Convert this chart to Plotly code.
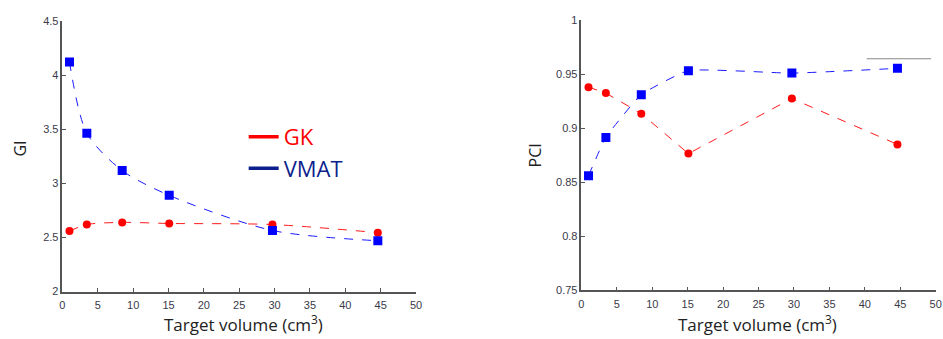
import plotly.graph_objects as go

volume = [1.0, 3.45, 8.45, 15.1, 29.7, 44.6]
gi_gk = [2.56, 2.62, 2.64, 2.63, 2.62, 2.545]
gi_vmat = [4.125, 3.465, 3.12, 2.89, 2.565, 2.47]
pci_gk = [0.938, 0.9325, 0.9135, 0.8765, 0.9275, 0.885]
pci_vmat = [0.856, 0.8915, 0.931, 0.9533, 0.951, 0.9554]
x_ticks = [0, 5, 10, 15, 20, 25, 30, 35, 40, 45, 50]
gi_ticks = [2, 2.5, 3, 3.5, 4, 4.5]
pci_ticks = [0.75, 0.8, 0.85, 0.9, 0.95, 1]

W, H = 943, 339
RED = "#ff1a1a"
BLUE = "#1a1aff"
NAVY = "#0d1f8c"

fig = go.Figure()

# left plot (GI)
fig.add_trace(go.Scatter(x=volume, y=gi_gk, mode="lines+markers", xaxis="x", yaxis="y",
                         line=dict(color=RED, width=1, dash="dash", shape="spline", smoothing=0.8),
                         marker=dict(symbol="circle", size=8, color="#ff0000"), showlegend=False))
fig.add_trace(go.Scatter(x=volume, y=gi_vmat, mode="lines+markers", xaxis="x", yaxis="y",
                         line=dict(color=BLUE, width=1, dash="dash", shape="spline", smoothing=0.8),
                         marker=dict(symbol="square", size=9, color="#0000ff"), showlegend=False))
# right plot (PCI)
fig.add_trace(go.Scatter(x=volume, y=pci_gk, mode="lines+markers", xaxis="x2", yaxis="y2",
                         line=dict(color=RED, width=1, dash="dash"),
                         marker=dict(symbol="circle", size=8, color="#ff0000"), showlegend=False))
fig.add_trace(go.Scatter(x=volume, y=pci_vmat, mode="lines+markers", xaxis="x2", yaxis="y2",
                         line=dict(color=BLUE, width=1, dash="dash", shape="spline", smoothing=0.4),
                         marker=dict(symbol="square", size=9, color="#0000ff"), showlegend=False))

# legend entries
fig.add_trace(go.Scatter(x=[None], y=[None], mode="lines", name="<span style='color:#ff0000'>GK</span>",
                         line=dict(color="#ff0000", width=3.5), xaxis="x", yaxis="y"))
fig.add_trace(go.Scatter(x=[None], y=[None], mode="lines", name="<span style='color:%s'>VMAT</span>" % NAVY,
                         line=dict(color=NAVY, width=3.5), xaxis="x", yaxis="y"))

tickfont = dict(family="Liberation Sans", size=11, color="#3a3a4a")
axis_common = dict(showgrid=False, zeroline=False, showline=True, linecolor="#555555", linewidth=1.5,
                   ticks="inside", ticklen=4, tickcolor="#555555", tickfont=tickfont, mirror=False)

fig.update_layout(
    width=W, height=H, margin=dict(l=0, r=0, t=0, b=0),
    paper_bgcolor="white", plot_bgcolor="white",
    xaxis=dict(domain=[60 / W, 417 / W], range=[0, 50], tickvals=x_ticks, anchor="y",
               ticklabelstandoff=3, **axis_common),
    yaxis=dict(domain=[1 - 296 / H, 1 - 16 / H], range=[2, 4.5], tickvals=gi_ticks,
               ticktext=[f"{v:g}" for v in gi_ticks], anchor="x", **axis_common),
    xaxis2=dict(domain=[584 / W, 941.7 / W], range=[0, 50], tickvals=x_ticks, anchor="y2",
                ticklabelstandoff=3, **axis_common),
    yaxis2=dict(domain=[1 - 294.7 / H, 1 - 14.7 / H], range=[0.75, 1], tickvals=pci_ticks,
                ticktext=[f"{v:g}" for v in pci_ticks], anchor="x2", **axis_common),
    legend=dict(x=243 / W, y=1 - 114 / H, xanchor="left", yanchor="top", bgcolor="rgba(0,0,0,0)",
                font=dict(family="Open Sans", size=22), tracegroupgap=0, itemwidth=30),
    showlegend=True,
)

title_font = dict(family="Open Sans", size=17, color="#222222")
for cx in (243, 762):
    fig.add_annotation(text="Target volume (cm<sup>3</sup>)", x=cx / W, y=0, xref="paper", yref="paper",
                       xanchor="center", yanchor="bottom", yshift=-5, showarrow=False, font=title_font)
fig.add_annotation(text="GI", x=17 / W, y=1 - 148 / H, xref="paper", yref="paper", textangle=-90,
                   xanchor="center", yanchor="middle",
                   showarrow=False, font=dict(family="Open Sans", size=16, color="#222222"))
fig.add_annotation(text="PCI", x=537 / W, y=1 - 155 / H, xref="paper", yref="paper", textangle=-90,
                   xanchor="center", yanchor="middle",
                   showarrow=False, font=dict(family="Open Sans", size=16, color="#222222"))

# stray grey line at top-right of right panel
fig.add_shape(type="line", xref="paper", yref="paper", x0=872 / W, x1=937 / W, y0=1 - 54.7 / H, y1=1 - 54.7 / H,
              line=dict(color="#888888", width=1.2))

fig.write_html("out.html")
